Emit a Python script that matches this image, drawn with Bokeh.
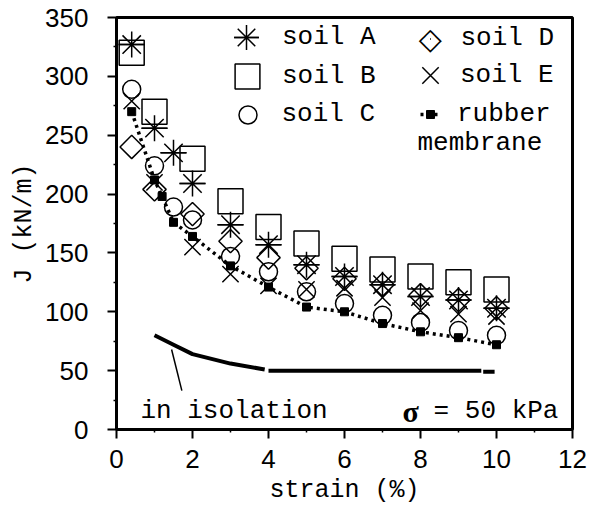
import numpy as np
from bokeh.plotting import figure
from bokeh.models import Range1d, FixedTicker, Legend, LegendItem, Label
from bokeh.embed import file_html
from bokeh.resources import INLINE

nan = np.nan

# ---- data ----
strain_a = [0.4, 1, 1.5, 2, 3, 4, 5, 6, 7, 8, 9, 10]
soil_a = [327, 256, 235, 209, 174, 157, 140, 130, 123, 113, 110, 103]

strain_b = [0.4, 1, 2, 3, 4, 5, 6, 7, 8, 9, 10]
soil_b = [320, 270, 230, 194, 172, 158, 145, 136, 130, 125, 119]

strain_c = [0.4, 1, 1.5, 2, 3, 4, 5, 6, 7, 8, 9, 10]
soil_c = [289, 224, 189, 178, 147, 134, 117, 107, 97, 91, 84, 80]

strain_d = [0.4, 1, 2, 3, 4, 5, 6, 7, 8, 9, 10]
soil_d = [240, 204, 183, 160, 146, 137, 128, 123, 114, 110, 103]

strain_e = [0.4, 1, 2, 3, 4, 5, 6, 7, 8, 9, 10]
soil_e = [279, 210, 155, 132, 122, 119, 120, 112, 101, 98, 96]

strain_rub = [0.4, 1, 1.2, 1.5, 2, 3, 4, 5, 6, 7, 8, 9, 10]
rubber = [270, 212, 198, 176, 164, 139, 121, 104, 100, 90, 83, 78, 72]

strain_iso = [1.0, 1.5, 2.0, 2.5, 3.0, 3.9, nan, 4.0, 9.6, nan, 9.65, 9.95]
isolation = [80, 72, 64, 60, 56, 51, nan, 50, 50, nan, 49, 49]

leader_x = [1.45, 1.72]
leader_y = [68, 33]

x_ticks = [0, 2, 4, 6, 8, 10, 12]
y_ticks = [0, 50, 100, 150, 200, 250, 300, 350]

MONO = "Liberation Mono"
SANS = "Liberation Sans"

p = figure(width=590, height=508, x_range=Range1d(0, 12), y_range=Range1d(0, 350),
           output_backend="svg", toolbar_location=None,
           min_border_left=116, min_border_right=18, min_border_top=17, min_border_bottom=79)
p.grid.visible = False
p.outline_line_color = "black"
p.outline_line_width = 3
p.background_fill_color = "white"
p.border_fill_color = "white"

p.xaxis.ticker = FixedTicker(ticks=x_ticks, minor_ticks=[1, 3, 5, 7, 9, 11])
p.yaxis.ticker = FixedTicker(ticks=y_ticks, minor_ticks=[25, 75, 125, 175, 225, 275, 325])

for ax in (p.xaxis[0], p.yaxis[0]):
    ax.axis_line_width = 3
    ax.axis_line_color = "black"
    ax.major_tick_line_width = 2
    ax.major_tick_line_color = "black"
    ax.major_tick_out = 9
    ax.major_tick_in = 0
    ax.minor_tick_out = 3
    ax.minor_tick_in = 0
    ax.minor_tick_line_width = 1.5
    ax.minor_tick_line_color = "black"
    ax.major_label_text_font = SANS
    ax.major_label_text_font_size = "26px"
    ax.major_label_text_color = "black"
    ax.axis_label_text_font = MONO
    ax.axis_label_text_font_size = "25px"
    ax.axis_label_text_font_style = "normal"
    ax.axis_label_text_color = "black"

p.xaxis.axis_label = "strain (%)"
p.yaxis.axis_label = "J (kN/m)"
p.xaxis.major_label_standoff = 11
p.yaxis.major_label_standoff = 19
p.xaxis.axis_label_standoff = 5
p.yaxis.axis_label_standoff = 3

# ---- series ----
lw = 1.5
r_iso = p.line(strain_iso, isolation, line_width=4, line_color="black")
p.line(leader_x, leader_y, line_width=1.5, line_color="black")

r_rub_line = p.line(strain_rub, rubber, line_width=3.5, line_color="black", line_dash="3 4")
r_rub = p.scatter(strain_rub, rubber, marker="square", size=8, fill_color="black", line_color="black")

r_a = p.scatter(strain_a, soil_a, marker="asterisk", size=26, line_color="black", line_width=lw)
r_a2 = p.scatter(strain_a, soil_a, marker="dash", size=26, line_color="black", line_width=lw)
r_b = p.scatter(strain_b, soil_b, marker="square", size=25, fill_color=None, line_color="black", line_width=lw)
r_c = p.scatter(strain_c, soil_c, marker="circle", size=18, fill_color=None, line_color="black", line_width=lw)
r_d = p.scatter(strain_d, soil_d, marker="square", angle=np.pi / 4, size=16.5, fill_color=None,
                line_color="black", line_width=lw)
r_e = p.scatter(strain_e, soil_e, marker="x", size=23, line_color="black", line_width=lw)

# ---- legends (one per entry to control marker size) ----
FRAME_H = 412


def add_legend(label, renderers, g, cx, cy_top, text_x, gw=None):
    gw = g if gw is None else gw
    loc_x = cx - gw / 2
    loc_y = FRAME_H - cy_top - g / 2
    leg = Legend(items=[LegendItem(label=label, renderers=renderers)],
                 location=(loc_x, loc_y), glyph_width=gw, glyph_height=g, label_height=g,
                 label_standoff=max(0, int(round(text_x - (cx + gw / 2)))),
                 padding=0, margin=0, spacing=0, border_line_color=None,
                 background_fill_alpha=0, label_text_font=MONO, label_text_font_size="26px",
                 label_text_color="black")
    p.add_layout(leg)


add_legend("soil A", [r_a, r_a2], 62, 130, 20, 166)
add_legend("soil B", [r_b], 62, 131, 59, 166)
add_legend("soil C", [r_c], 45, 131, 97, 166)
# legend glyphs ignore marker angle, so the diamond key symbol is drawn as a character
add_legend("soil D", [r_d], 41, 314, 21, 344, gw=1)
p.add_layout(Label(x=8.26, y=332, text="◇", text_font="DejaVu Sans", text_font_size="30px",
                   text_align="center", text_baseline="middle", text_color="black"))
add_legend("soil E", [r_e], 58, 314, 58, 344)
add_legend("rubber", [r_rub_line, r_rub], 34, 314, 97, 341, gw=20)

p.add_layout(Label(x=7.92, y=243, text="membrane", text_font=MONO, text_font_size="26px",
                   text_baseline="middle", text_color="black"))
p.add_layout(Label(x=0.63, y=15.3, text="in isolation", text_font=MONO, text_font_size="26px",
                   text_baseline="alphabetic", text_color="black"))
p.add_layout(Label(x=7.74, y=15.3, text="σ", text_font="Liberation Serif", text_font_size="30px",
                   text_font_style="bold", text_baseline="alphabetic", text_align="center",
                   text_color="black"))
p.add_layout(Label(x=11.63, y=15.3, text="= 50 kPa", text_font=MONO, text_font_size="26px",
                   text_baseline="alphabetic", text_align="right", text_color="black"))

open("out.html", "w").write(file_html(p, INLINE))
